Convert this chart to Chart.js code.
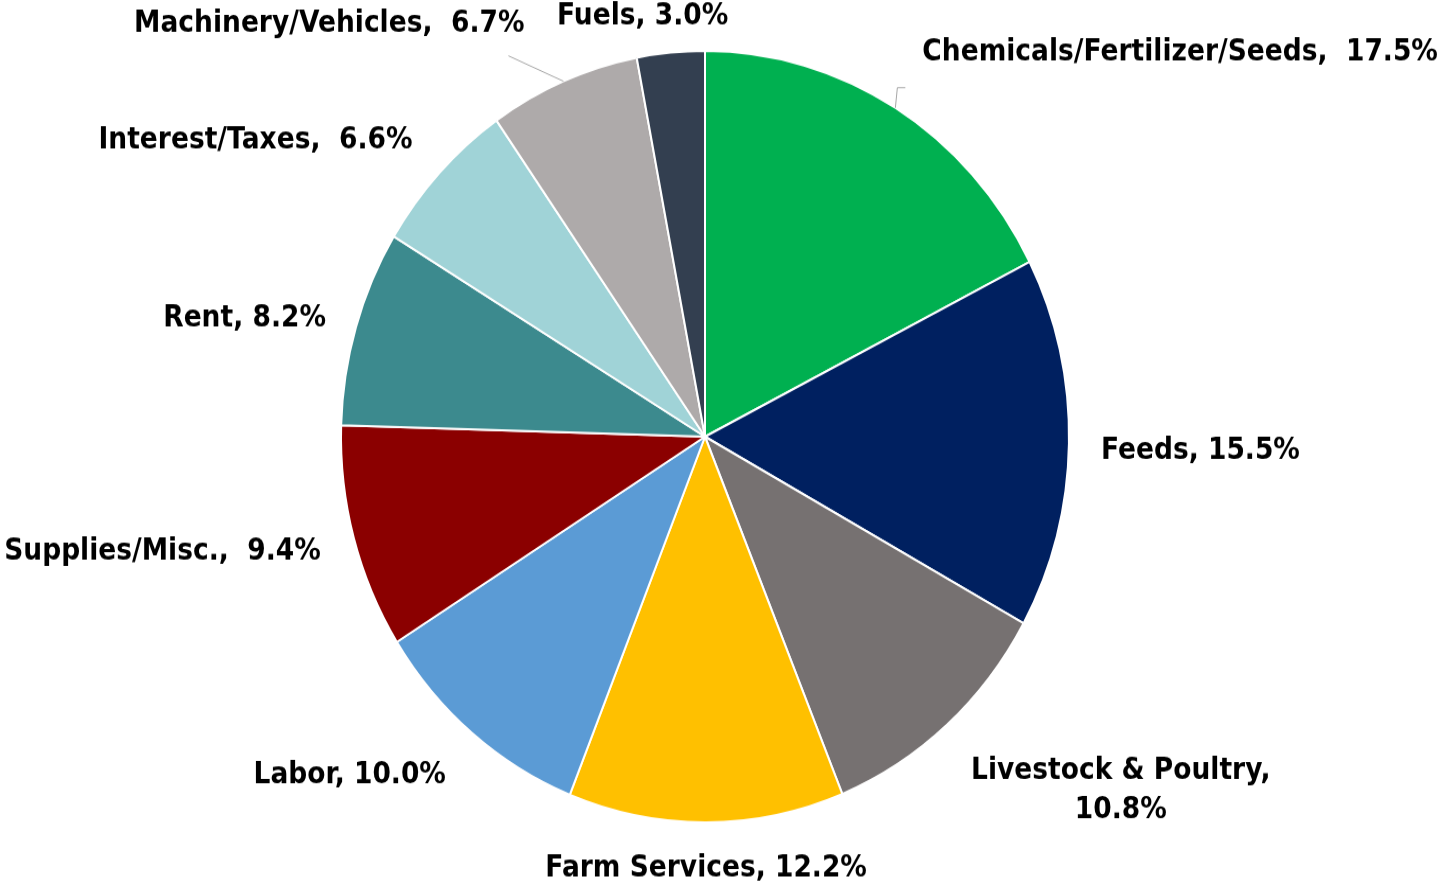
<!DOCTYPE html>
<html>
<head>
<meta charset="utf-8">
<title>Farm Production Expenses</title>
<script src="https://cdn.jsdelivr.net/npm/chart.js@4/dist/chart.umd.min.js"></script>
<style>
  html, body { margin:0; padding:0; background:#fff; overflow:hidden; }
  #wrap { position:absolute; left:0; top:0; width:1448px; height:836px; transform:scaleY(1.0598); transform-origin:0 0; }
</style>
</head>
<body>
<div id="wrap"><canvas id="chExp"></canvas></div>
<script>
// expense categories, clockwise from 12 o'clock
const categories = ['Chemicals/Fertilizer/Seeds', 'Feeds', 'Livestock & Poultry', 'Farm Services', 'Labor',
                    'Supplies/Misc.', 'Rent', 'Interest/Taxes', 'Machinery/Vehicles', 'Fuels'];
const shares = [17.5, 15.5, 10.8, 12.2, 10.0, 9.4, 8.2, 6.6, 6.7, 3.0];
const sliceColors = ['#00b050', '#002060', '#767171', '#ffc000', '#5b9bd5',
                     '#8b0000', '#3c8a8e', '#a0d3d7', '#aeaaaa', '#333f50'];

// where each label sits relative to the outer midpoint of its slice
const labelPlace = [
  {dx: 27,  dy: -52, align: 'left',   sep: ',  ', lead: [[2, -19], [10, -19]]},
  {dx: 32,  dy: 7,   align: 'left',   sep: ', '},
  {dx: 174, dy: 43,  align: 'center', sep: ',', wrap: true},
  {dx: 0,   dy: 44,  align: 'center', sep: ', '},
  {dx: -26, dy: 40,  align: 'right',  sep: ', '},
  {dx: -33, dy: 13,  align: 'right',  sep: ',  '},
  {dx: -30, dy: -8,  align: 'right',  sep: ', '},
  {dx: -27, dy: -30, align: 'right',  sep: ',  '},
  {dx: -39, dy: -54, align: 'right',  sep: ',  ', lead: [[-55, -24]]},
  {dx: -28, dy: -34, align: 'center', sep: ', '}
];

// slightly condensed bold text
function drawText(ctx, txt, x, y) {
  ctx.save();
  ctx.translate(x, y);
  ctx.scale(0.93, 1);
  ctx.fillText(txt, 0, 0);
  ctx.restore();
}

const sliceLabels = {
  id: 'sliceLabels',
  afterDatasetsDraw(chart) {
    const ctx = chart.ctx;
    const arcs = chart.getDatasetMeta(0).data;
    ctx.save();
    ctx.font = 'bold 28.5px "DejaVu Sans", sans-serif';
    ctx.fillStyle = '#000';
    ctx.textBaseline = 'middle';
    arcs.forEach((arc, i) => {
      const a = arc.getProps(['x', 'y', 'startAngle', 'endAngle', 'outerRadius'], true);
      const mid = (a.startAngle + a.endAngle) / 2;
      const ex = a.x + Math.cos(mid) * a.outerRadius;
      const ey = a.y + Math.sin(mid) * a.outerRadius;
      const p = labelPlace[i];
      const pct = shares[i].toFixed(1) + '%';

      if (p.lead) {
        ctx.strokeStyle = '#a6a6a6';
        ctx.lineWidth = 1;
        ctx.beginPath();
        ctx.moveTo(ex, ey);
        p.lead.forEach(pt => ctx.lineTo(ex + pt[0], ey + pt[1]));
        ctx.stroke();
      }

      ctx.textAlign = p.align;
      const lx = ex + p.dx, ly = ey + p.dy;
      if (p.wrap) {
        drawText(ctx, categories[i] + p.sep, lx, ly);
        drawText(ctx, pct, lx, ly + 37);
      } else {
        drawText(ctx, categories[i] + p.sep + pct, lx, ly);
      }
    });
    ctx.restore();
  }
};

new Chart(document.getElementById('chExp'), {
  type: 'pie',
  data: {
    labels: categories,
    datasets: [{
      data: shares,
      backgroundColor: sliceColors,
      borderColor: '#ffffff',
      borderWidth: 2
    }]
  },
  options: {
    responsive: true,
    maintainAspectRatio: false,
    animation: false,
    layout: {padding: {top: 47, bottom: 59, left: 340, right: 378}},
    plugins: {legend: {display: false}, tooltip: {enabled: false}}
  },
  plugins: [sliceLabels]
});
</script>
</body>
</html>
